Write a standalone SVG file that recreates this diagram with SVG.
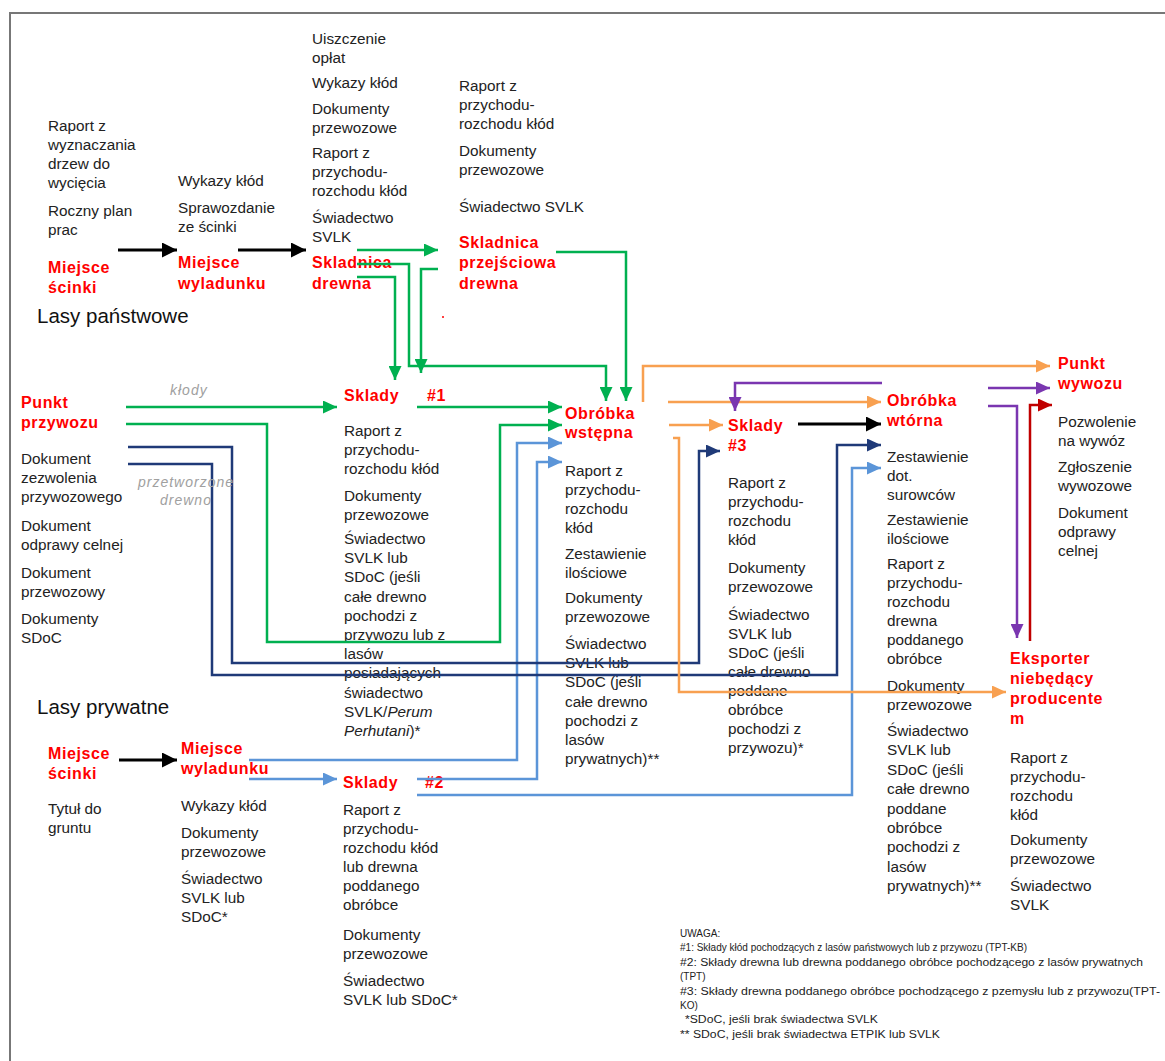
<svg xmlns="http://www.w3.org/2000/svg" width="1165" height="1061" viewBox="0 0 1165 1061">
<style>
text{font-family:"Liberation Sans",Arial,sans-serif}
.t{font-size:15.3px;fill:#222}
.r{font-size:16px;font-weight:bold;fill:#ff0000;letter-spacing:0.6px}
.h{font-size:20.5px;fill:#111}
.g{font-size:14px;font-style:italic;fill:#a0a0a0;letter-spacing:1px}
.n{font-size:10px;fill:#222}
.c{fill:none;stroke-linejoin:miter}
.k{stroke:#000;stroke-width:3}
.gr{stroke:#00b050;stroke-width:2.5}
.lb{stroke:#5b95d8;stroke-width:2.5}
.nv{stroke:#1f3a78;stroke-width:2.5}
.or{stroke:#f8a050;stroke-width:2.5}
.pu{stroke:#7a36b0;stroke-width:2.5}
.dr{stroke:#c00000;stroke-width:2.5}
</style>
<defs>
<marker id="mk" markerUnits="userSpaceOnUse" markerWidth="15" markerHeight="15" refX="15" refY="7.5" orient="auto"><path d="M0,0 L15,7.5 L0,15 Z" fill="#000"/></marker>
<marker id="mg" markerUnits="userSpaceOnUse" markerWidth="14" markerHeight="13" refX="14" refY="6.5" orient="auto"><path d="M0,0 L14,6.5 L0,13 Z" fill="#00b050"/></marker>
<marker id="mb" markerUnits="userSpaceOnUse" markerWidth="14" markerHeight="13" refX="14" refY="6.5" orient="auto"><path d="M0,0 L14,6.5 L0,13 Z" fill="#5b95d8"/></marker>
<marker id="mn" markerUnits="userSpaceOnUse" markerWidth="14" markerHeight="13" refX="14" refY="6.5" orient="auto"><path d="M0,0 L14,6.5 L0,13 Z" fill="#1f3a78"/></marker>
<marker id="mo" markerUnits="userSpaceOnUse" markerWidth="14" markerHeight="13" refX="14" refY="6.5" orient="auto"><path d="M0,0 L14,6.5 L0,13 Z" fill="#f8a050"/></marker>
<marker id="mp" markerUnits="userSpaceOnUse" markerWidth="14" markerHeight="13" refX="14" refY="6.5" orient="auto"><path d="M0,0 L14,6.5 L0,13 Z" fill="#7a36b0"/></marker>
<marker id="mr" markerUnits="userSpaceOnUse" markerWidth="14" markerHeight="13" refX="14" refY="6.5" orient="auto"><path d="M0,0 L14,6.5 L0,13 Z" fill="#c00000"/></marker>
</defs>
<rect width="1165" height="1061" fill="#fff"/>
<path d="M10,1061 V13 H1165" fill="none" stroke="#777" stroke-width="2"/>

<g id="section-labels">
<text class="h" x="37" y="323">Lasy państwowe</text>
<text class="h" x="37" y="714">Lasy prywatne</text>
</g>

<g id="miejsce-scinki-panstwowe">
<text class="t"><tspan x="48" y="131">Raport z</tspan><tspan x="48" y="150">wyznaczania</tspan><tspan x="48" y="169">drzew do</tspan><tspan x="48" y="188">wycięcia</tspan><tspan x="48" y="216">Roczny plan</tspan><tspan x="48" y="235">prac</tspan></text>
<text class="r"><tspan x="48" y="273">Miejsce</tspan><tspan x="48" y="293">ścinki</tspan></text>
</g>

<g id="miejsce-wyladunku-panstwowe">
<text class="t"><tspan x="178" y="186">Wykazy kłód</tspan><tspan x="178" y="213">Sprawozdanie</tspan><tspan x="178" y="232">ze ścinki</tspan></text>
<text class="r"><tspan x="178" y="268">Miejsce</tspan><tspan x="178" y="289">wyladunku</tspan></text>
</g>

<g id="skladnica-drewna">
<text class="t"><tspan x="312" y="44">Uiszczenie</tspan><tspan x="312" y="63">opłat</tspan><tspan x="312" y="88">Wykazy kłód</tspan><tspan x="312" y="114">Dokumenty</tspan><tspan x="312" y="133">przewozowe</tspan><tspan x="312" y="158">Raport z</tspan><tspan x="312" y="177">przychodu-</tspan><tspan x="312" y="196">rozchodu kłód</tspan><tspan x="312" y="223">Świadectwo</tspan><tspan x="312" y="242">SVLK</tspan></text>
<text class="r"><tspan x="312" y="268">Skladnica</tspan><tspan x="312" y="289">drewna</tspan></text>
</g>

<g id="skladnica-przejsciowa">
<text class="t"><tspan x="459" y="91">Raport z</tspan><tspan x="459" y="110">przychodu-</tspan><tspan x="459" y="129">rozchodu kłód</tspan><tspan x="459" y="156">Dokumenty</tspan><tspan x="459" y="175">przewozowe</tspan><tspan x="459" y="212">Świadectwo SVLK</tspan></text>
<text class="r"><tspan x="459" y="248">Skladnica</tspan><tspan x="459" y="268">przejściowa</tspan><tspan x="459" y="289">drewna</tspan></text>
<circle cx="443" cy="317" r="1" fill="#ff0000"/>
</g>

<g id="punkt-przywozu">
<text class="r"><tspan x="21" y="408">Punkt</tspan><tspan x="21" y="428">przywozu</tspan></text>
<text class="t"><tspan x="21" y="464">Dokument</tspan><tspan x="21" y="483">zezwolenia</tspan><tspan x="21" y="502">przywozowego</tspan><tspan x="21" y="531">Dokument</tspan><tspan x="21" y="550">odprawy celnej</tspan><tspan x="21" y="578">Dokument</tspan><tspan x="21" y="597">przewozowy</tspan><tspan x="21" y="624">Dokumenty</tspan><tspan x="21" y="643">SDoC</tspan></text>
</g>

<g id="sklady-1">
<text class="r"><tspan x="344" y="401">Sklady</tspan><tspan x="427" y="401">#1</tspan></text>
<text class="t"><tspan x="344" y="436">Raport z</tspan><tspan x="344" y="455">przychodu-</tspan><tspan x="344" y="474">rozchodu kłód</tspan><tspan x="344" y="501">Dokumenty</tspan><tspan x="344" y="520">przewozowe</tspan><tspan x="344" y="544">Świadectwo</tspan><tspan x="344" y="563.2">SVLK lub</tspan><tspan x="344" y="582.4">SDoC (jeśli</tspan><tspan x="344" y="601.6">całe drewno</tspan><tspan x="344" y="620.8">pochodzi z</tspan><tspan x="344" y="640">przywozu lub z</tspan><tspan x="344" y="659.2">lasów</tspan><tspan x="344" y="678.4">posiadających</tspan><tspan x="344" y="697.6">świadectwo</tspan><tspan x="344" y="716.8">SVLK/<tspan font-style="italic">Perum</tspan></tspan><tspan x="344" y="736"><tspan font-style="italic">Perhutani</tspan>)*</tspan></text>
</g>

<g id="obrobka-wstepna">
<text class="r"><tspan x="565" y="418.5">Obróbka</tspan><tspan x="565" y="438">wstępna</tspan></text>
<text class="t"><tspan x="565" y="476">Raport z</tspan><tspan x="565" y="495">przychodu-</tspan><tspan x="565" y="514">rozchodu</tspan><tspan x="565" y="533">kłód</tspan><tspan x="565" y="559">Zestawienie</tspan><tspan x="565" y="578">ilościowe</tspan><tspan x="565" y="603">Dokumenty</tspan><tspan x="565" y="622">przewozowe</tspan><tspan x="565" y="649">Świadectwo</tspan><tspan x="565" y="668.2">SVLK lub</tspan><tspan x="565" y="687.4">SDoC (jeśli</tspan><tspan x="565" y="706.6">całe drewno</tspan><tspan x="565" y="725.8">pochodzi z</tspan><tspan x="565" y="745">lasów</tspan><tspan x="565" y="764.2">prywatnych)**</tspan></text>
</g>

<g id="sklady-3">
<text class="r"><tspan x="728" y="430.5">Sklady</tspan><tspan x="728" y="451">#3</tspan></text>
<text class="t"><tspan x="728" y="488">Raport z</tspan><tspan x="728" y="507">przychodu-</tspan><tspan x="728" y="526">rozchodu</tspan><tspan x="728" y="545">kłód</tspan><tspan x="728" y="573">Dokumenty</tspan><tspan x="728" y="592">przewozowe</tspan><tspan x="728" y="620">Świadectwo</tspan><tspan x="728" y="639">SVLK lub</tspan><tspan x="728" y="658">SDoC (jeśli</tspan><tspan x="728" y="677">całe drewno</tspan><tspan x="728" y="696">poddane</tspan><tspan x="728" y="715">obróbce</tspan><tspan x="728" y="734">pochodzi z</tspan><tspan x="728" y="753">przywozu)*</tspan></text>
</g>

<g id="obrobka-wtorna">
<text class="r"><tspan x="887" y="406">Obróbka</tspan><tspan x="887" y="426">wtórna</tspan></text>
<text class="t"><tspan x="887" y="462">Zestawienie</tspan><tspan x="887" y="481">dot.</tspan><tspan x="887" y="500">surowców</tspan><tspan x="887" y="525">Zestawienie</tspan><tspan x="887" y="544">ilościowe</tspan><tspan x="887" y="569">Raport z</tspan><tspan x="887" y="588">przychodu-</tspan><tspan x="887" y="607">rozchodu</tspan><tspan x="887" y="626">drewna</tspan><tspan x="887" y="645">poddanego</tspan><tspan x="887" y="664">obróbce</tspan><tspan x="887" y="691">Dokumenty</tspan><tspan x="887" y="710">przewozowe</tspan><tspan x="887" y="736">Świadectwo</tspan><tspan x="887" y="755.4">SVLK lub</tspan><tspan x="887" y="774.8">SDoC (jeśli</tspan><tspan x="887" y="794.2">całe drewno</tspan><tspan x="887" y="813.6">poddane</tspan><tspan x="887" y="833">obróbce</tspan><tspan x="887" y="852.4">pochodzi z</tspan><tspan x="887" y="871.8">lasów</tspan><tspan x="887" y="891.2">prywatnych)**</tspan></text>
</g>

<g id="punkt-wywozu">
<text class="r"><tspan x="1058" y="369">Punkt</tspan><tspan x="1058" y="389">wywozu</tspan></text>
<text class="t"><tspan x="1058" y="427">Pozwolenie</tspan><tspan x="1058" y="446">na wywóz</tspan><tspan x="1058" y="472">Zgłoszenie</tspan><tspan x="1058" y="491">wywozowe</tspan><tspan x="1058" y="518">Dokument</tspan><tspan x="1058" y="537">odprawy</tspan><tspan x="1058" y="556">celnej</tspan></text>
</g>

<g id="eksporter">
<text class="r"><tspan x="1010" y="664">Eksporter</tspan><tspan x="1010" y="684">niebędący</tspan><tspan x="1010" y="704">producente</tspan><tspan x="1010" y="724">m</tspan></text>
<text class="t"><tspan x="1010" y="763">Raport z</tspan><tspan x="1010" y="782">przychodu-</tspan><tspan x="1010" y="801">rozchodu</tspan><tspan x="1010" y="820">kłód</tspan><tspan x="1010" y="845">Dokumenty</tspan><tspan x="1010" y="864">przewozowe</tspan><tspan x="1010" y="891">Świadectwo</tspan><tspan x="1010" y="910">SVLK</tspan></text>
</g>

<g id="miejsce-scinki-prywatne">
<text class="r"><tspan x="48" y="758.5">Miejsce</tspan><tspan x="48" y="779">ścinki</tspan></text>
<text class="t"><tspan x="48" y="814">Tytuł do</tspan><tspan x="48" y="833">gruntu</tspan></text>
</g>

<g id="miejsce-wyladunku-prywatne">
<text class="r"><tspan x="181" y="753.5">Miejsce</tspan><tspan x="181" y="774">wyladunku</tspan></text>
<text class="t"><tspan x="181" y="811">Wykazy kłód</tspan><tspan x="181" y="838">Dokumenty</tspan><tspan x="181" y="857">przewozowe</tspan><tspan x="181" y="884">Świadectwo</tspan><tspan x="181" y="903">SVLK lub</tspan><tspan x="181" y="922">SDoC*</tspan></text>
</g>

<g id="sklady-2">
<text class="r"><tspan x="343" y="787.5">Sklady</tspan><tspan x="425" y="787.5">#2</tspan></text>
<text class="t"><tspan x="343" y="815">Raport z</tspan><tspan x="343" y="834">przychodu-</tspan><tspan x="343" y="853">rozchodu kłód</tspan><tspan x="343" y="872">lub drewna</tspan><tspan x="343" y="891">poddanego</tspan><tspan x="343" y="910">obróbce</tspan><tspan x="343" y="940">Dokumenty</tspan><tspan x="343" y="959">przewozowe</tspan><tspan x="343" y="986">Świadectwo</tspan><tspan x="343" y="1005">SVLK lub SDoC*</tspan></text>
</g>

<g id="uwaga">
<text class="n"><tspan x="680" y="937">UWAGA:</tspan><tspan x="680" y="951" textLength="347" lengthAdjust="spacingAndGlyphs">#1: Składy kłód pochodzących z lasów państwowych lub z przywozu (TPT-KB)</tspan><tspan x="680" y="966" textLength="463" lengthAdjust="spacingAndGlyphs">#2: Składy drewna lub drewna poddanego obróbce pochodzącego z lasów prywatnych</tspan><tspan x="680" y="980">(TPT)</tspan><tspan x="680" y="995" textLength="480" lengthAdjust="spacingAndGlyphs">#3: Składy drewna poddanego obróbce pochodzącego z pzemysłu lub z przywozu(TPT-</tspan><tspan x="680" y="1009">KO)</tspan><tspan x="685" y="1023" textLength="193" lengthAdjust="spacingAndGlyphs">*SDoC, jeśli brak świadectwa SVLK</tspan><tspan x="680" y="1038" textLength="260" lengthAdjust="spacingAndGlyphs">** SDoC, jeśli brak świadectwa ETPIK lub SVLK</tspan></text>
</g>

<g id="connectors">
<path class="c k" d="M118,250 H177" marker-end="url(#mk)"/>
<path class="c k" d="M238,250 H306" marker-end="url(#mk)"/>
<path class="c k" d="M119,760 H177" marker-end="url(#mk)"/>
<path class="c k" d="M798,424 H881" marker-end="url(#mk)"/>

<path class="c gr" d="M357,250 H438" marker-end="url(#mg)"/>
<path class="c gr" d="M357,264 H409 V366 H606 V401" marker-end="url(#mg)"/>
<path class="c gr" d="M357,277 H395 V380" marker-end="url(#mg)"/>
<path class="c gr" d="M438,269 H421 V373" marker-end="url(#mg)"/>
<path class="c gr" d="M556,252 H626 V401" marker-end="url(#mg)"/>
<path class="c gr" d="M126,407 H337" marker-end="url(#mg)"/>
<path class="c gr" d="M417,407 H562" marker-end="url(#mg)"/>
<path class="c gr" d="M126,424 H267 V642 H500 V425 H562" marker-end="url(#mg)"/>

<path class="c lb" d="M249,760 H517 V443 H562" marker-end="url(#mb)"/>
<path class="c lb" d="M249,779 H337" marker-end="url(#mb)"/>
<path class="c lb" d="M417,779 H537 V462 H562" marker-end="url(#mb)"/>
<path class="c lb" d="M417,795 H852 V468 H881" marker-end="url(#mb)"/>

<path class="c nv" d="M128,447 H232 V663 H699 V451 H720" marker-end="url(#mn)"/>
<path class="c nv" d="M128,464 H212 V675 H837 V445 H881" marker-end="url(#mn)"/>

<path class="c or" d="M643,402 V366 H1050" marker-end="url(#mo)"/>
<path class="c or" d="M668,402 H881" marker-end="url(#mo)"/>
<path class="c or" d="M669,425 H723" marker-end="url(#mo)"/>
<path class="c or" d="M673,438 H679 V692 H1006" marker-end="url(#mo)"/>

<path class="c pu" d="M882,383 H735 V411" marker-end="url(#mp)"/>
<path class="c pu" d="M988,388 H1050" marker-end="url(#mp)"/>
<path class="c pu" d="M988,406 H1017 V638" marker-end="url(#mp)"/>

<path class="c dr" d="M1030,641 V405 H1052" marker-end="url(#mr)"/>
</g>

<g id="connector-labels">
<text class="g" x="170" y="395">kłody</text>
<text class="g"><tspan x="138" y="487">przetworzone</tspan><tspan x="160" y="505">drewno</tspan></text>
</g>
</svg>
